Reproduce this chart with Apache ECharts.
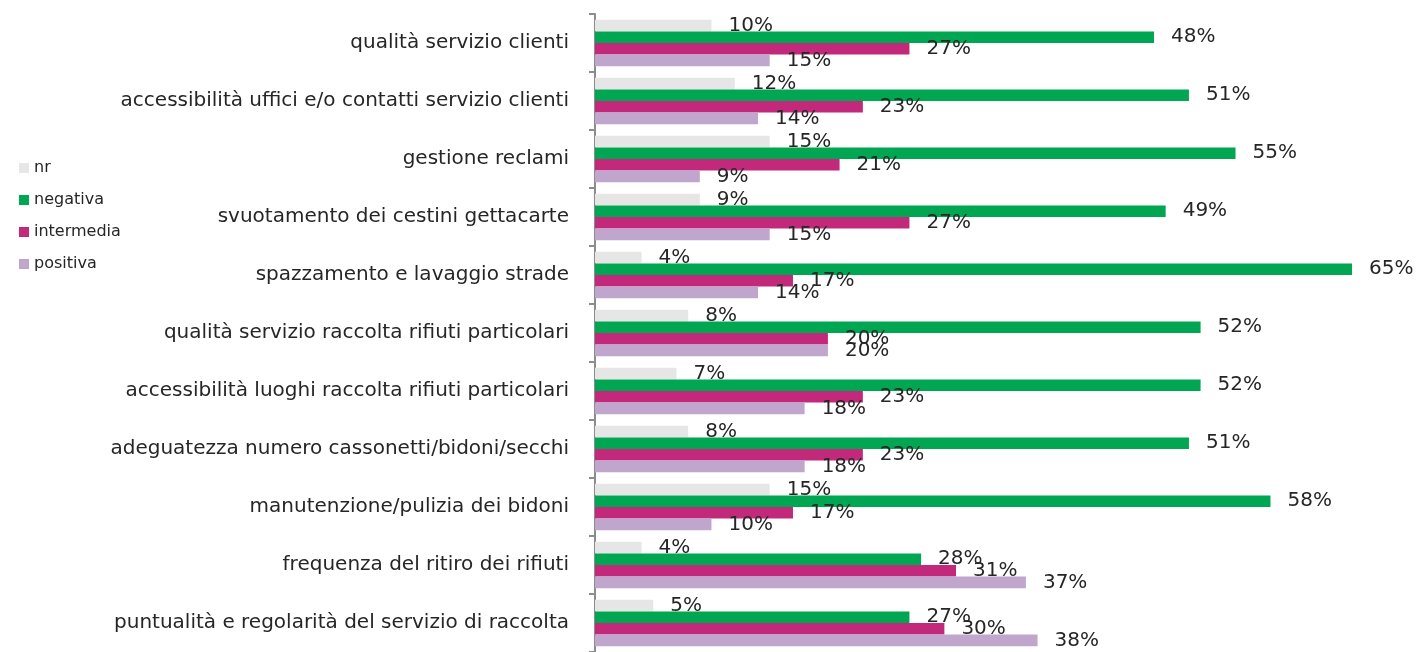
<!DOCTYPE html>
<html>
<head>
<meta charset="utf-8">
<script src="https://cdn.jsdelivr.net/npm/echarts@6/dist/echarts.min.js"></script>
<style>
  html, body { margin: 0; padding: 0; background: #fff; }
  #main { width: 1419px; height: 652px; }
</style>
</head>
<body>
<div id="main"></div>
<script>
// categorie (dall'alto verso il basso)
var categories = [
  'qualità servizio clienti',
  'accessibilità uffici e/o contatti servizio clienti',
  'gestione reclami',
  'svuotamento dei cestini gettacarte',
  'spazzamento e lavaggio strade',
  'qualità servizio raccolta rifiuti particolari',
  'accessibilità luoghi raccolta rifiuti particolari',
  'adeguatezza numero cassonetti/bidoni/secchi',
  'manutenzione/pulizia dei bidoni',
  'frequenza del ritiro dei rifiuti',
  'puntualità e regolarità del servizio di raccolta'
];
var nrData = [10, 12, 15, 9, 4, 8, 7, 8, 15, 4, 5];
var negativaData = [48, 51, 55, 49, 65, 52, 52, 51, 58, 28, 27];
var intermediaData = [27, 23, 21, 27, 17, 20, 23, 23, 17, 31, 30];
var positivaData = [15, 14, 9, 15, 14, 20, 18, 18, 10, 37, 38];

var chart = echarts.init(document.getElementById('main'), null, { renderer: 'canvas' });

var labelStyle = {
  show: true,
  position: 'right',
  distance: 17,
  color: '#262626',
  fontFamily: 'DejaVu Sans',
  fontSize: 20,
  formatter: '{c}%'
};

function makeSeries(name, data, color) {
  return {
    name: name,
    type: 'bar',
    data: data,
    barGap: '0%',
    barCategoryGap: '20%',
    itemStyle: { color: color },
    label: labelStyle
  };
}

var option = {
  backgroundColor: '#fff',
  animation: false,
  legend: {
    orient: 'vertical',
    left: 14,
    top: 155,
    itemWidth: 10,
    itemHeight: 10,
    itemGap: 16,
    icon: 'rect',
    data: ['nr', 'negativa', 'intermedia', 'positiva'],
    textStyle: { color: '#262626', fontFamily: 'DejaVu Sans', fontSize: 16 }
  },
  grid: {
    left: 595,
    right: 67,
    top: 14,
    bottom: 0,
    containLabel: false
  },
  xAxis: {
    type: 'value',
    min: 0,
    max: 65,
    show: false
  },
  yAxis: {
    type: 'category',
    inverse: true,
    data: categories,
    axisLine: { show: true, lineStyle: { color: '#8c8c8c', width: 2 } },
    axisTick: { show: true, length: 6, lineStyle: { color: '#8c8c8c', width: 2 } },
    axisLabel: {
      color: '#262626',
      fontFamily: 'DejaVu Sans',
      fontSize: 20,
      margin: 26
    }
  },
  series: [
    makeSeries('nr', nrData, '#e6e6e6'),
    makeSeries('negativa', negativaData, '#00a651'),
    makeSeries('intermedia', intermediaData, '#c2297b'),
    makeSeries('positiva', positivaData, '#c0a6cd')
  ]
};

chart.setOption(option);
</script>
</body>
</html>
